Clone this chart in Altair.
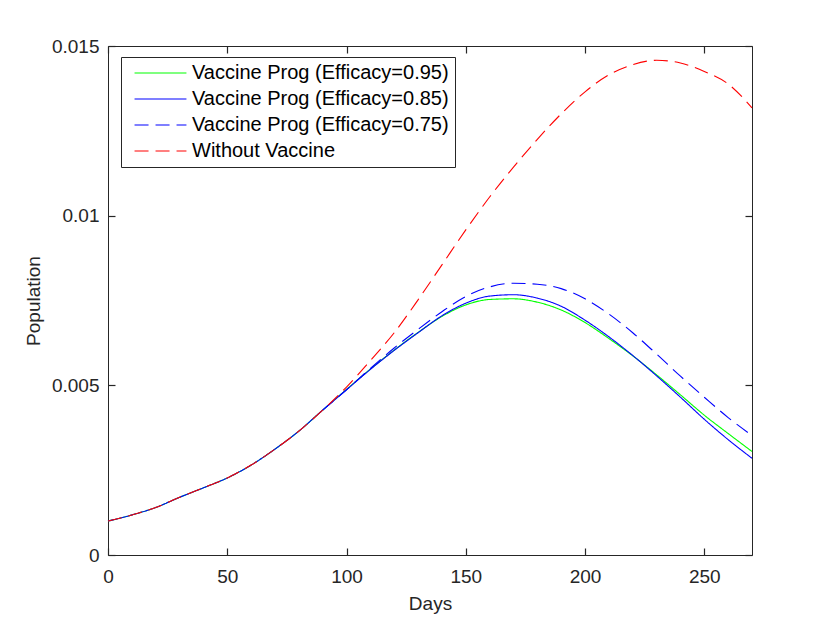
import altair as alt
import pandas as pd

# ---- data ----
series_names = [
    "Vaccine Prog (Efficacy=0.95)",
    "Vaccine Prog (Efficacy=0.85)",
    "Vaccine Prog (Efficacy=0.75)",
    "Without Vaccine",
]
series_colors = ["#00ff00", "#0000ff", "#0000ff", "#ff0000"]
series_dashes = [[1, 0], [1, 0], [14, 7], [14, 7]]

days_early = [0, 10, 20, 30, 40, 50, 60, 70, 80, 90]
vals_early = [0.00100, 0.00118, 0.00140, 0.00170, 0.00198, 0.00227,
              0.00265, 0.00312, 0.00365, 0.00427]

days_late = [100, 110, 120, 130, 140, 150, 160, 170, 180, 190,
             200, 210, 220, 230, 240, 250, 260, 270]

eff95_late = [0.00488, 0.00548, 0.00604, 0.00656, 0.00703, 0.00737, 0.00753,
              0.00755, 0.00745, 0.00722, 0.00685, 0.00638, 0.00587, 0.00531,
              0.00472, 0.00412, 0.00358, 0.00305]
eff85_late = [0.00487, 0.00547, 0.00603, 0.00655, 0.00705, 0.00742, 0.00763,
              0.00767, 0.00757, 0.00733, 0.00692, 0.00643, 0.00588, 0.00528,
              0.00465, 0.00400, 0.00340, 0.00285]
eff75_start_day = 90
eff75_start_val = 0.00427
eff75_late = [0.00487, 0.00550, 0.00610, 0.00665, 0.00717, 0.00762, 0.00790,
              0.00801, 0.00798, 0.00785, 0.00755, 0.00710, 0.00655, 0.00592,
              0.00527, 0.00465, 0.00405, 0.00352]
novax_late = [0.00495, 0.00573, 0.00655, 0.00752, 0.00855, 0.00958, 0.01055,
              0.01143, 0.01225, 0.01300, 0.01365, 0.01415, 0.01445, 0.01458,
              0.01450, 0.01425, 0.01388, 0.01318]

x_ticks = [0, 50, 100, 150, 200, 250]
y_ticks = [0, 0.005, 0.01, 0.015]

# ---- long table ----
rows = []
def add(name, ds, vs):
    for d, v in zip(ds, vs):
        rows.append({"series": name, "day": d, "pop": v})

add(series_names[0], days_early + days_late, vals_early + eff95_late)
add(series_names[1], days_early + days_late, vals_early + eff85_late)
add(series_names[2], [eff75_start_day] + days_late, [eff75_start_val] + eff75_late)
add(series_names[3], days_early + days_late, vals_early + novax_late)
df = pd.DataFrame(rows)

W, H = 644, 509
FONT = "Liberation Sans"
TXT = "#262626"

xscale = alt.Scale(domain=[0, 270], nice=False, zero=False)
yscale = alt.Scale(domain=[0, 0.015], nice=False, zero=False)

base = alt.Chart(df)

legend_main = alt.Legend(orient="none", legendX=13, legendY=11, title=None)

lines = base.mark_line(strokeWidth=1.1, interpolate="monotone").encode(
    x=alt.X("day:Q", scale=xscale,
            axis=alt.Axis(orient="bottom", values=x_ticks, title="Days",
                          ticks=False, tickSize=0, domain=False, grid=False,
                          labelFlush=False,
                          labelPadding=12, titlePadding=8,
                          labelFontSize=19, titleFontSize=19,
                          labelFont=FONT, titleFont=FONT,
                          labelColor=TXT, titleColor=TXT,
                          titleFontWeight="normal")),
    y=alt.Y("pop:Q", scale=yscale,
            axis=alt.Axis(orient="left", values=y_ticks, title="Population",
                          format=".3~f", ticks=False, tickSize=0, domain=False,
                          grid=False, labelFlush=False,
                          labelPadding=9, titlePadding=8,
                          labelFontSize=19, titleFontSize=19,
                          labelFont=FONT, titleFont=FONT,
                          labelColor=TXT, titleColor=TXT,
                          titleFontWeight="normal")),
    color=alt.Color("series:N",
                    scale=alt.Scale(domain=series_names, range=series_colors),
                    sort=series_names, legend=legend_main),
    strokeDash=alt.StrokeDash("series:N",
                              scale=alt.Scale(domain=series_names, range=series_dashes),
                              sort=series_names, legend=legend_main),
    order=alt.Order("day:Q"),
)

def tick_axis(orient, values, off):
    return alt.Axis(orient=orient, values=values, title="", labels=False,
                    domain=False, grid=False, ticks=True, tickSize=7,
                    tickColor=TXT, tickWidth=1.2, offset=off)

ticks_a = base.mark_point(opacity=0).encode(
    x=alt.X("day:Q", scale=xscale, axis=tick_axis("top", x_ticks, -H)),
    y=alt.Y("pop:Q", scale=yscale, axis=tick_axis("right", y_ticks, -W)),
)
ticks_b = base.mark_point(opacity=0).encode(
    x=alt.X("day:Q", scale=xscale, axis=tick_axis("bottom", x_ticks, -H)),
    y=alt.Y("pop:Q", scale=yscale, axis=tick_axis("left", y_ticks, -W)),
)

chart = alt.layer(lines, ticks_a, ticks_b).resolve_axis(
    x="independent", y="independent"
).properties(
    width=W, height=H,
    autosize=alt.AutoSizeParams(type="none"),
    padding={"left": 100, "top": 38, "right": 70, "bottom": 60},
).configure_view(
    stroke=TXT, strokeWidth=1
).configure_legend(
    symbolType="M-0.41,0H8.24",
    symbolSize=144,
    symbolStrokeWidth=1.2,
    labelFontSize=20,
    labelFont=FONT,
    labelColor="black",
    strokeColor=TXT,
    fillColor="white",
    padding=6,
    rowPadding=6,
    labelOffset=45,
    labelLimit=400,
    cornerRadius=0,
)

chart.save("out.html", embed_options={"renderer": "svg", "actions": False})
